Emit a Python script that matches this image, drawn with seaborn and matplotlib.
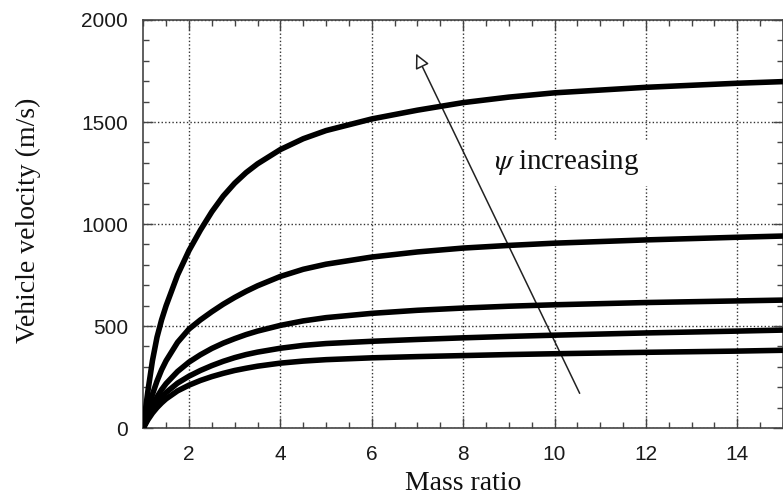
import numpy as np
import pandas as pd
import matplotlib
matplotlib.use("Agg")
import matplotlib.pyplot as plt
from matplotlib.ticker import MultipleLocator
import seaborn as sns

# ---- data ----
mass_ratio = [1, 1.05, 1.1, 1.2, 1.3, 1.4, 1.5, 1.75, 2, 2.25, 2.5, 2.75, 3, 3.25, 3.5,
              4, 4.5, 5, 6, 7, 8, 9, 10, 12, 14, 15]
velocity_1 = [0, 95, 180, 330, 445, 530, 600, 750, 870, 970, 1060, 1137, 1200, 1252, 1295,
              1365, 1418, 1458, 1515, 1558, 1595, 1622, 1643, 1670, 1690, 1698]
velocity_2 = [0, 45, 90, 165, 230, 285, 330, 420, 485, 530, 570, 607, 640, 670, 697,
              743, 778, 803, 838, 863, 882, 895, 906, 922, 935, 941]
velocity_3 = [0, 30, 60, 110, 152, 188, 218, 277, 323, 359, 390, 416, 438, 458, 475,
              503, 525, 541, 562, 577, 588, 597, 604, 615, 623, 627]
velocity_4 = [0, 24, 48, 88, 122, 150, 174, 220, 254, 282, 306, 327, 345, 360, 372,
              391, 405, 414, 425, 434, 442, 449, 455, 466, 475, 480]
velocity_5 = [0, 20, 40, 73, 100, 123, 143, 182, 210, 233, 252, 268, 282, 293, 303,
              318, 328, 335, 344, 350, 355, 360, 364, 371, 377, 381]
curve_names = ["c1", "c2", "c3", "c4", "c5"]
x_ticks = [2, 4, 6, 8, 10, 12, 14]
y_ticks = [0, 500, 1000, 1500, 2000]
arrow_tail = (10.55, 170)
arrow_head = (6.97, 1835)
annotation_text = r"$\psi$ increasing"
annotation_pos = (8.68, 1300)

series = [velocity_1, velocity_2, velocity_3, velocity_4, velocity_5]
df = pd.DataFrame({
    "Mass ratio": np.concatenate([mass_ratio] * len(series)),
    "Velocity": np.concatenate(series),
    "curve": np.repeat(curve_names, len(mass_ratio)),
})

sns.set_theme(style="ticks")
plt.rcParams["font.family"] = ["Liberation Sans", "DejaVu Sans"]
plt.rcParams["mathtext.fontset"] = "stix"

fig = plt.figure(figsize=(7.83, 5.01), dpi=100)
ax = fig.add_axes([143.3 / 783, 1 - 428 / 501, 1 - 143.3 / 783, (428 - 20) / 501])

sns.lineplot(data=df, x="Mass ratio", y="Velocity", hue="curve",
             palette=["black"] * 5, legend=False, sort=False, ax=ax,
             linewidth=4.0, solid_capstyle="round", solid_joinstyle="round",
             zorder=3)

ax.set_xlim(1, 15)
ax.set_ylim(0, 2000)
ax.set_xticks(x_ticks)
ax.set_yticks(y_ticks)
ax.xaxis.set_minor_locator(MultipleLocator(0.5))
ax.yaxis.set_minor_locator(MultipleLocator(100))

ax.grid(True, which="major", linestyle=(0, (1, 1.6)), color="#333333", linewidth=1.0)
ax.tick_params(which="both", direction="in", top=True, right=True,
               color="#444444", width=1.0)
ax.tick_params(which="major", length=7, labelsize=15, labelcolor="#1a1a1a")
ax.tick_params(axis="x", which="major", pad=12)
ax.tick_params(axis="y", which="major", pad=11)
ax.tick_params(which="minor", length=4.5)
for s in ax.spines.values():
    s.set_color("#444444")
    s.set_linewidth(1.2)

ax.set_xlabel("Mass ratio", fontsize=20, family="Liberation Serif", color="#111111")
ax.set_ylabel("Vehicle velocity (m/s)", fontsize=20, family="Liberation Serif", color="#111111")
ax.xaxis.set_label_coords(0.5, -0.105)
ax.yaxis.set_label_coords(-0.16, 0.51)

ax.annotate("", xy=arrow_head, xytext=arrow_tail,
            arrowprops=dict(arrowstyle="-|>", fc="white", ec="#222222",
                            lw=1.1, mutation_scale=22, shrinkA=0, shrinkB=0),
            zorder=2)
ax.text(annotation_pos[0], annotation_pos[1], annotation_text,
        fontsize=21, family="Liberation Serif", color="#111111",
        ha="left", va="center", zorder=2.5,
        bbox=dict(facecolor="white", edgecolor="none", pad=6))

fig.savefig("out.png", dpi=100)
